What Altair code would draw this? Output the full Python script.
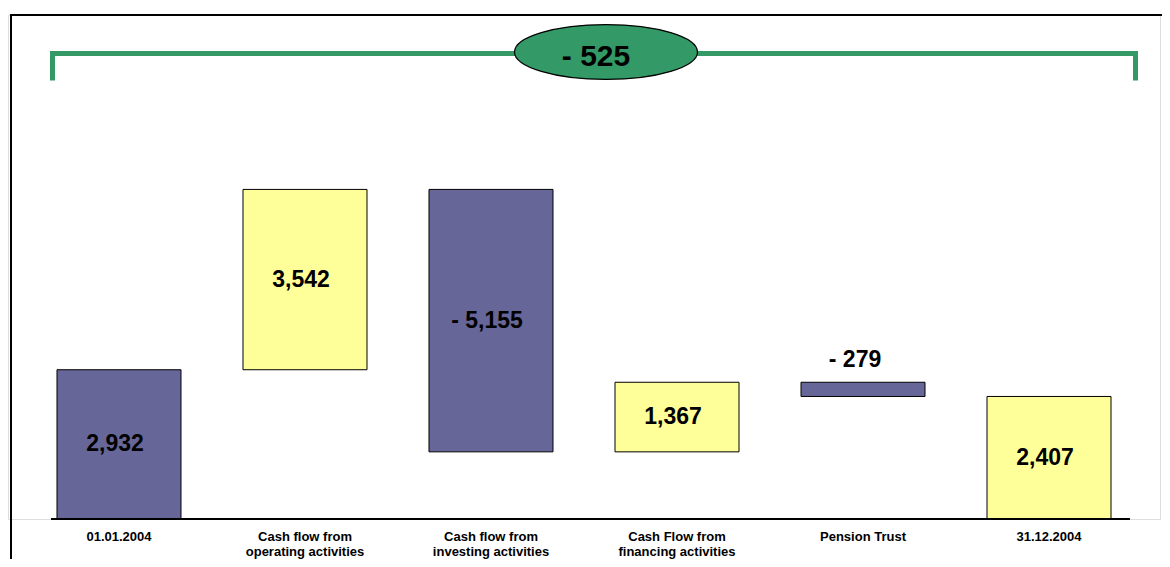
import altair as alt
import pandas as pd

categories = [
    "01.01.2004",
    "Cash flow from|operating activities",
    "Cash flow from|investing activities",
    "Cash Flow from|financing activities",
    "Pension Trust",
    "31.12.2004",
]
values = [2932, 3542, -5155, 1367, -279, 2407]
kinds = ["total", "delta", "delta", "delta", "delta", "total"]
palette = ["#666699", "#FFFF99", "#666699", "#FFFF99", "#666699", "#FFFF99"]

FONT = "Liberation Sans"
GREEN = "#339966"


def fmt(v):
    return f"{v:,}" if v >= 0 else f"- {abs(v):,}"


rows = []
running = 0
for c, v, k in zip(categories, values, kinds):
    if k == "total":
        s, e = 0, v
    else:
        s, e = running, running + v
    running = e
    rows.append({"cat": c, "start": s, "end": e, "mid": (s + e) / 2,
                 "top": max(s, e), "label": fmt(v), "small": abs(v) < 600})
df = pd.DataFrame(rows)
total_change = fmt(values[-1] - values[0])

W, H = 1152, 504
yscale = alt.Scale(domain=[0, 9900], nice=False, zero=True)

xenc = alt.X(
    "cat:N", sort=categories,
    scale=alt.Scale(paddingInner=1 / 3, paddingOuter=0.2634),
    axis=alt.Axis(title=None, labelExpr="split(datum.label, '|')", labelAngle=0,
                  labelFontSize=13, labelFontWeight="bold", labelFont=FONT,
                  labelColor="black", labelLineHeight=15, ticks=False, domain=False,
                  labelPadding=11, labelBaseline="top", grid=False),
)

base = alt.Chart(df)

bars = base.mark_bar(stroke="black", strokeWidth=1).encode(
    x=xenc,
    y=alt.Y("start:Q", scale=yscale, axis=None),
    y2="end:Q",
    color=alt.Color("cat:N", sort=categories,
                    scale=alt.Scale(domain=categories, range=palette), legend=None),
)

inside = base.transform_filter("!datum.small").mark_text(
    font=FONT, fontSize=23, fontWeight="bold", color="black", baseline="middle", dx=-4
).encode(x=alt.X("cat:N", sort=categories), y=alt.Y("mid:Q", scale=yscale), text="label:N")

above = base.transform_filter("datum.small").mark_text(
    font=FONT, fontSize=23, fontWeight="bold", color="black", baseline="middle", dy=-22, dx=-8
).encode(x=alt.X("cat:N", sort=categories), y=alt.Y("top:Q", scale=yscale), text="label:N")

one = pd.DataFrame({"k": [0]})


def rule(x, x2, y, y2, color, width):
    return alt.Chart(one).mark_rule(color=color, strokeWidth=width, strokeCap="square").encode(
        x=alt.value(x), x2=alt.value(x2), y=alt.value(y), y2=alt.value(y2)
    )


baseline = alt.Chart(one).mark_rule(color="black", strokeWidth=2).encode(
    x=alt.value(43), x2=alt.value(1122), y=alt.Y(datum=0, scale=yscale)
)

frame_left = rule(3, 3, 0, 600, "black", 2)
frame_top = rule(3, 1170, 0, 0, "black", 2)

br_h = rule(44.5, 1127.5, 38.5, 38.5, GREEN, 5)
br_l = rule(44.5, 44.5, 38.5, 63, GREEN, 5)
br_r = rule(1127.5, 1127.5, 38.5, 63, GREEN, 5)

ellipse = alt.Chart(one).mark_point(
    shape="M -1 0 A 1 0.3 0 1 1 1 0 A 1 0.3 0 1 1 -1 0 Z",
    size=183 * 183, filled=True, fill=GREEN, stroke="black", strokeWidth=1.2, opacity=1,
).encode(x=alt.value(598), y=alt.value(37))

ellipse_text = alt.Chart(pd.DataFrame({"t": [total_change]})).mark_text(
    font=FONT, fontSize=30, fontWeight="bold", color="black", baseline="middle"
).encode(x=alt.value(588), y=alt.value(42), text="t:N")

chart = alt.layer(
    frame_left, frame_top, bars, baseline, inside, above,
    br_h, br_l, br_r, ellipse, ellipse_text,
).properties(
    width=W, height=H,
    autosize=alt.AutoSizeParams(type="none"),
    padding={"left": 0, "top": 7, "right": 2, "bottom": 40},
).configure_view(stroke=None).configure(background="white")

chart.save("out.html", embed_options={"renderer": "svg", "actions": False})
